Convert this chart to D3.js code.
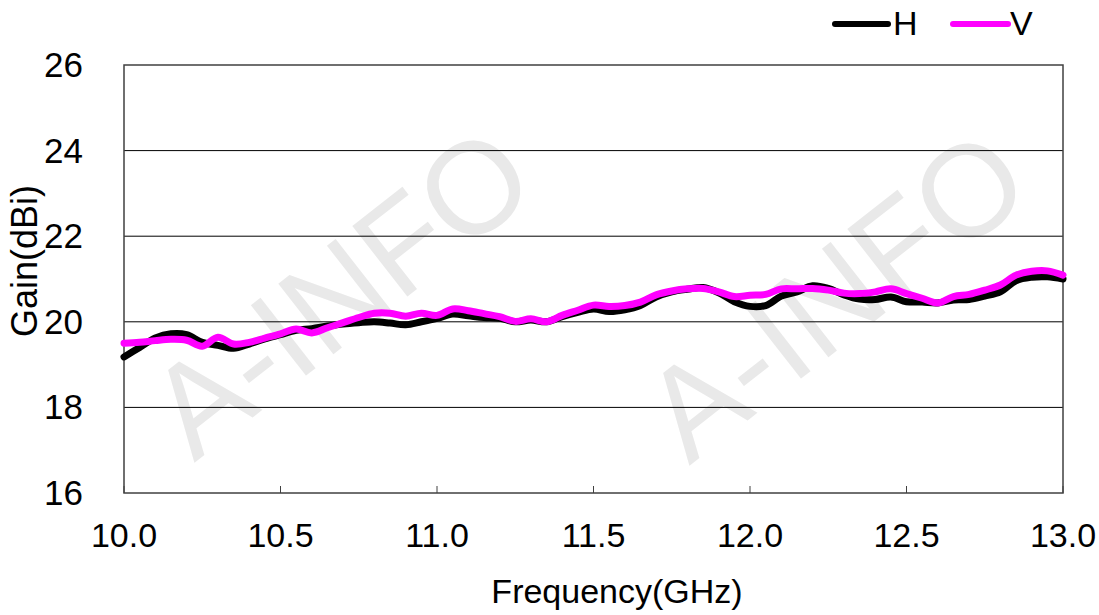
<!DOCTYPE html>
<html>
<head>
<meta charset="utf-8">
<script src="https://cdn.jsdelivr.net/npm/d3@7"></script>
<style>
  html, body { margin: 0; padding: 0; background: #fff; }
  svg { display: block; font-family: "Liberation Sans", Arial, sans-serif; }
</style>
</head>
<body>
<svg id="chart" width="1099" height="615"></svg>
<script>
const freq = [10.00,10.05,10.10,10.15,10.20,10.25,10.30,10.35,10.40,10.45,10.50,10.55,10.60,10.65,10.70,10.75,10.80,10.85,10.90,10.95,
  11.00,11.05,11.10,11.15,11.20,11.25,11.30,11.35,11.40,11.45,11.50,11.55,11.60,11.65,11.70,11.75,11.80,11.85,11.90,11.95,
  12.00,12.05,12.10,12.15,12.20,12.25,12.30,12.35,12.40,12.45,12.50,12.55,12.60,12.65,12.70,12.75,12.80,12.85,12.90,12.95,13.00];
const gainH = [19.18,19.40,19.62,19.72,19.70,19.52,19.45,19.38,19.48,19.60,19.70,19.80,19.84,19.90,19.95,19.98,20.00,19.97,19.93,20.00,
  20.08,20.18,20.14,20.10,20.08,20.00,20.04,20.00,20.12,20.22,20.30,20.24,20.28,20.38,20.58,20.70,20.76,20.80,20.68,20.47,
  20.36,20.38,20.60,20.70,20.84,20.78,20.63,20.53,20.52,20.58,20.47,20.46,20.44,20.51,20.52,20.60,20.70,20.96,21.04,21.05,21.00];
const gainV = [19.50,19.52,19.56,19.59,19.57,19.43,19.64,19.48,19.52,19.62,19.72,19.83,19.74,19.86,19.98,20.10,20.20,20.20,20.13,20.20,
  20.15,20.30,20.26,20.19,20.12,20.01,20.07,20.00,20.15,20.27,20.39,20.36,20.38,20.46,20.63,20.72,20.77,20.78,20.70,20.59,
  20.62,20.64,20.77,20.77,20.78,20.74,20.67,20.66,20.70,20.77,20.66,20.55,20.44,20.59,20.64,20.74,20.86,21.09,21.18,21.19,21.09];
const xTicks = [10.0,10.5,11.0,11.5,12.0,12.5,13.0];
const yTicks = [16,18,20,22,24,26];
const seriesNames = ["H","V"];
const seriesColors = ["#000000","#ff00ff"];

const svg = d3.select("#chart");
const pL = 124, pR = 1063, pT = 65, pB = 493;
const x = d3.scaleLinear().domain([10,13]).range([pL,pR]);
const y = d3.scaleLinear().domain([16,26]).range([pB,pT]);

// watermark
const wm = svg.append("g").attr("fill","#e9e9e9").attr("font-size",130);
[[340,292],[835,295]].forEach(c=>{
  wm.append("text").attr("text-anchor","middle").attr("dominant-baseline","central")
    .attr("transform",`translate(${c[0]},${c[1]}) rotate(-38)`).text("A-INFO");
});

// gridlines
svg.append("g").selectAll("line").data(yTicks.filter(d=>d>16 && d<26)).join("line")
  .attr("x1",pL).attr("x2",pR).attr("y1",d=>y(d)).attr("y2",d=>y(d))
  .attr("stroke","#000").attr("stroke-width",1);

// x tick marks (inside)
svg.append("g").selectAll("line").data(xTicks).join("line")
  .attr("x1",d=>x(d)).attr("x2",d=>x(d)).attr("y1",pB).attr("y2",pB-7)
  .attr("stroke","#404040").attr("stroke-width",1);

// frame
svg.append("rect").attr("x",pL).attr("y",pT).attr("width",pR-pL).attr("height",pB-pT)
  .attr("fill","none").attr("stroke","#404040").attr("stroke-width",1.5);

// lines
const line = d3.line().curve(d3.curveCatmullRom.alpha(0.5)).x((d,i)=>x(freq[i])).y(d=>y(d));
[gainH,gainV].forEach((s,k)=>{
  svg.append("path").datum(s).attr("d",line).attr("fill","none")
    .attr("stroke",seriesColors[k]).attr("stroke-width",7)
    .attr("stroke-linejoin","round").attr("stroke-linecap","round");
});

// tick labels
svg.append("g").selectAll("text").data(xTicks).join("text")
  .attr("x",d=>x(d)).attr("y",547).attr("text-anchor","middle").attr("font-size",34).attr("fill","#000")
  .text(d=>d3.format(".1f")(d));
svg.append("g").selectAll("text").data(yTicks).join("text")
  .attr("x",83).attr("y",d=>y(d)+12).attr("text-anchor","end").attr("font-size",35).attr("fill","#000")
  .text(d=>d);

// axis titles
svg.append("text").attr("x",617).attr("y",603).attr("text-anchor","middle").attr("font-size",34)
  .attr("fill","#000").text("Frequency(GHz)");
svg.append("text").attr("transform","translate(37,261) rotate(-90)").attr("text-anchor","middle")
  .attr("font-size",36).attr("fill","#000").text("Gain(dBi)");

// legend
const lg = [{x1:835,x2:888,tx:893},{x1:953,x2:1008,tx:1010}];
lg.forEach((p,k)=>{
  svg.append("line").attr("x1",p.x1).attr("x2",p.x2).attr("y1",24).attr("y2",24)
    .attr("stroke",seriesColors[k]).attr("stroke-width",6).attr("stroke-linecap","round");
  svg.append("text").attr("x",p.tx).attr("y",35).attr("font-size",34).attr("fill","#000").text(seriesNames[k]);
});
</script>
</body>
</html>
